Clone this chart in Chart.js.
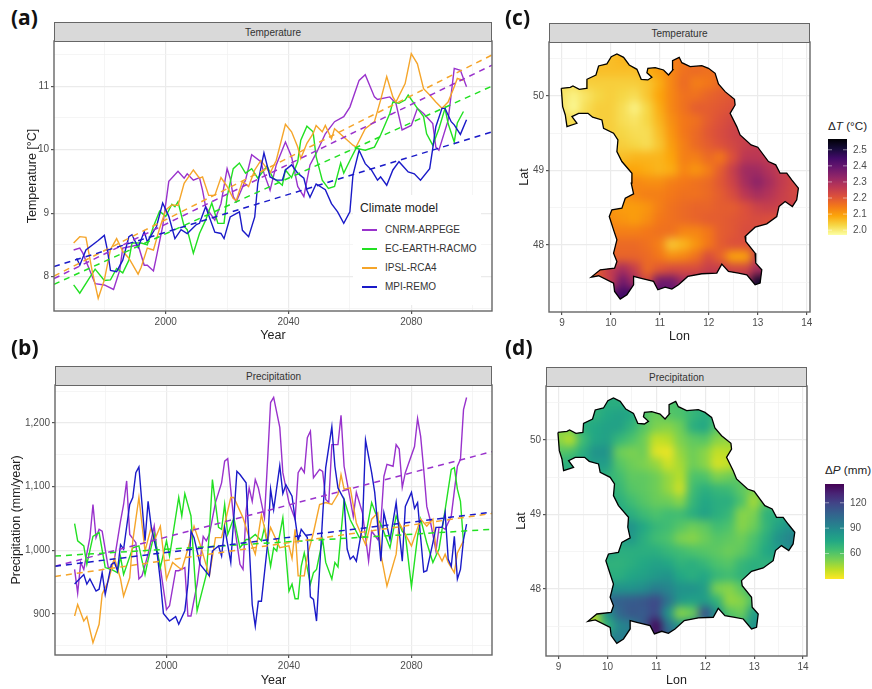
<!DOCTYPE html>
<html>
<head>
<meta charset="utf-8">
<title>Climate models</title>
<script src="https://cdn.jsdelivr.net/npm/chart.js@4"></script>
<style>
  body { margin: 0; background: #fff; font-family: "Liberation Sans", Arial, sans-serif; }
  #page { position: relative; width: 872px; height: 689px; overflow: hidden; }
  canvas { position: absolute; }
  .tag { position: absolute; font: bold 21px "Open Sans", sans-serif; color: #111; line-height: 24px; }
  .strip { position: absolute; box-sizing: border-box; background: #d9d9d9; border: 1px solid #666; border-bottom-width: 1.5px;
           font-size: 10px; color: #333; text-align: center; }
  .cbtitle { position: absolute; font-size: 11.7px; color: #222; white-space: nowrap; }
  #legend { position: absolute; left: 353px; top: 195px; width: 128px; height: 110px; background: #fff; color: #333; }
  #legend .head { position: absolute; left: 7px; top: 6px; font-size: 12.2px; color: #222; }
  #legend .item { position: absolute; left: 32px; font-size: 10px; line-height: 14px; white-space: nowrap; }
  #legend .key { position: absolute; left: 9px; width: 15px; height: 2px; }
</style>
</head>
<body>
<div id="page"></div>
<script>
// Modelos e cores
const modelNames = ["CNRM-ARPEGE", "EC-EARTH-RACMO", "IPSL-RCA4", "MPI-REMO"];
const modelColors = ["#9932cc", "#22e022", "#f5a52a", "#1a1ac8"];

// Temperature, [year, value]
const tempCnrm = [[1970,8.42],[1972,8.45],[1973,8.37],[1975,8.13],[1977,7.89],[1980,7.87],[1983,7.8],[1985,8.1],[1986,8.45],[1989,8.48],[1991,8.5],[1993,8.18],[1994,8.18],[1996,8.09],[1997,8.32],[1999,8.79],[2001,9.5],[2004,9.66],[2006,9.55],[2007,9.62],[2009,9.52],[2011,9.56],[2012,9.36],[2013,9.1],[2016,8.89],[2018,9.15],[2020,9.7],[2021,9.55],[2022,9.26],[2023,9.18],[2026,9.52],[2028,9.92],[2031,9.81],[2032,9.63],[2034,9.36],[2036,9.76],[2039,10.12],[2041,9.89],[2043,9.42],[2045,9.26],[2047,9.76],[2049,9.94],[2052,10.25],[2055,10.44],[2058,10.52],[2060,10.67],[2063,11.09],[2065,11.18],[2068,10.83],[2069,10.79],[2073,10.83],[2075,10.73],[2077,10.31],[2080,10.38],[2082,10.65],[2084,10.57],[2087,10.41],[2088,10.04],[2089,9.99],[2092,10.46],[2094,11.28],[2096,11.25],[2098,10.99]];
const tempEcearth = [[1970,7.87],[1972,7.74],[1975,7.97],[1977,8.12],[1980,7.94],[1982,7.95],[1984,8.13],[1986,8.06],[1988,8.26],[1989,8.53],[1992,8.53],[1994,8.5],[1996,8.79],[1998,9.03],[2000,8.95],[2002,9.14],[2003,9.1],[2004,9.18],[2006,8.79],[2007,8.74],[2009,8.37],[2011,8.68],[2013,8.89],[2015,9.16],[2017,8.84],[2019,8.84],[2020,9.26],[2022,9.7],[2024,9.79],[2026,9.63],[2028,9.7],[2030,9.55],[2033,9.74],[2035,9.55],[2036,9.52],[2038,9.44],[2039,9.68],[2041,9.56],[2043,9.81],[2044,10.15],[2046,10.37],[2048,10.28],[2049,9.89],[2051,9.52],[2053,9.39],[2055,9.42],[2057,9.79],[2058,9.63],[2060,9.83],[2062,10.02],[2065,9.99],[2068,10.04],[2070,10.23],[2073,10.57],[2074,10.75],[2076,10.73],[2078,10.78],[2079,10.86],[2082,10.65],[2084,10.52],[2085,10.25],[2087,10.07],[2089,10.33],[2091,10.65],[2092,10.41],[2094,10.12],[2095,10.42],[2097,10.6]];
const tempIpsl = [[1970,8.53],[1972,8.63],[1974,8.62],[1976,8.1],[1978,7.66],[1980,7.95],[1982,8.43],[1984,8.6],[1986,8.4],[1988,8.29],[1991,8.04],[1992,8.15],[1994,8.45],[1996,8.42],[1998,8.76],[2000,9.05],[2002,9.13],[2004,9.12],[2006,9.47],[2009,9.68],[2011,9.55],[2012,9.57],[2014,9.28],[2016,9.28],[2018,9.56],[2020,9.42],[2022,9.23],[2023,9.2],[2025,9.5],[2027,9.42],[2029,9.68],[2031,9.83],[2034,9.63],[2036,9.83],[2039,10.4],[2041,10.28],[2043,10.04],[2044,9.86],[2046,10.1],[2048,10.25],[2049,10.38],[2051,10.28],[2052,10.38],[2054,10.17],[2055,10.33],[2058,10.2],[2061,10.07],[2062,10.04],[2065,10.33],[2068,10.44],[2070,10.78],[2072,11.15],[2074,10.83],[2075,10.75],[2078,11.04],[2080,11.51],[2082,11.35],[2084,10.96],[2086,10.86],[2088,10.75],[2090,10.65],[2092,10.75],[2094,10.99],[2095,11.12],[2097,11.09]];
const tempMpi = [[1971,8.29],[1972,8.18],[1974,8.42],[1978,8.57],[1980,8.65],[1981,8.42],[1982,8.1],[1984,8.08],[1986,8.26],[1988,8.63],[1989,8.66],[1991,8.46],[1993,8.71],[1994,8.55],[1997,8.79],[1999,9.16],[2001,8.95],[2003,8.6],[2005,8.74],[2007,8.68],[2010,8.82],[2011,8.84],[2013,9.1],[2016,8.7],[2018,8.68],[2019,8.6],[2021,8.94],[2024,9.02],[2025,8.73],[2027,8.63],[2029,8.94],[2030,9.47],[2032,9.95],[2034,9.57],[2036,9.52],[2038,9.52],[2039,9.68],[2041,9.76],[2043,9.63],[2045,9.55],[2046,9.36],[2047,9.25],[2049,9.46],[2052,9.37],[2054,9.15],[2056,9.02],[2058,8.84],[2060,9.02],[2061,9.6],[2063,9.99],[2065,9.78],[2067,9.68],[2069,9.52],[2070,9.57],[2072,9.44],[2074,9.68],[2076,9.81],[2079,9.65],[2081,9.62],[2083,9.52],[2086,9.7],[2087,10.02],[2088,10.36],[2090,10.65],[2091,10.65],[2093,10.44],[2094,10.39],[2096,10.24],[2098,10.47]];

// Precipitation, [year, value]
const precCnrm = [[1970,970],[1971,933],[1972,981],[1973,970],[1975,1020],[1976,1072],[1977,1020],[1978,1033],[1979,1030],[1981,973],[1982,973],[1983,986],[1985,1046],[1986,1072],[1987,1109],[1988,1025],[1990,1012],[1991,955],[1992,960],[1994,994],[1996,1038],[1997,994],[1998,973],[2000,907],[2001,913],[2003,968],[2004,968],[2006,973],[2007,897],[2008,897],[2010,947],[2012,1022],[2013,1015],[2014,1025],[2016,1075],[2018,1106],[2019,1140],[2020,1144],[2022,1046],[2024,978],[2025,970],[2026,1062],[2027,1098],[2028,1077],[2029,1111],[2030,1098],[2032,1051],[2033,1140],[2034,1232],[2035,1240],[2037,1193],[2038,1122],[2040,1075],[2042,1049],[2043,1122],[2044,1130],[2045,1122],[2046,1177],[2047,1187],[2048,1114],[2050,1127],[2051,1124],[2052,1080],[2053,1075],[2054,1166],[2056,1166],[2057,1212],[2058,1132],[2060,1080],[2061,1053],[2062,1091],[2064,1059],[2066,983],[2067,1030],[2069,1017],[2070,1043],[2071,1116],[2072,1135],[2074,1132],[2075,1166],[2076,1159],[2077,1099],[2078,1122],[2081,1163],[2082,1207],[2083,1179],[2084,1127],[2085,1069],[2086,1050],[2088,999],[2089,1036],[2090,1036],[2091,1033],[2093,1054],[2095,1132],[2096,1143],[2097,1221],[2098,1240]];
const precEcearth = [[1970,1042],[1971,1015],[1973,1007],[1974,978],[1976,1022],[1978,1028],[1980,973],[1982,970],[1984,965],[1985,990],[1986,962],[1989,1004],[1991,1007],[1993,962],[1994,985],[1996,1025],[1998,973],[2000,1015],[2001,991],[2004,1083],[2005,1054],[2006,1089],[2008,1054],[2009,978],[2010,905],[2013,962],[2014,1028],[2015,1111],[2017,1036],[2018,1033],[2019,1072],[2020,1025],[2022,1051],[2024,1004],[2026,1017],[2027,1017],[2029,1025],[2031,1015],[2032,1036],[2034,975],[2035,1004],[2036,999],[2038,1051],[2040,936],[2041,947],[2042,924],[2043,924],[2044,975],[2045,996],[2047,947],[2048,965],[2049,970],[2051,1017],[2052,981],[2054,955],[2055,981],[2056,974],[2058,1080],[2060,1048],[2063,1020],[2065,1022],[2067,1075],[2069,1049],[2070,1041],[2073,1004],[2075,1054],[2077,1030],[2078,1025],[2080,943],[2082,1022],[2083,1049],[2085,1012],[2087,981],[2089,1002],[2091,1064],[2093,1127],[2094,1130],[2095,1096],[2096,1077],[2097,1012]];
const precIpsl = [[1970,897],[1971,915],[1973,889],[1974,896],[1976,855],[1978,884],[1979,931],[1981,952],[1983,988],[1985,955],[1986,928],[1988,957],[1989,1015],[1991,1083],[1993,999],[1995,1036],[1996,1015],[1998,1038],[2000,955],[2002,981],[2004,973],[2005,970],[2007,1002],[2009,1038],[2011,1009],[2014,960],[2016,1020],[2018,1020],[2019,1041],[2021,1083],[2022,1083],[2025,1051],[2027,1020],[2029,994],[2031,1056],[2033,1015],[2034,1036],[2037,1004],[2040,1007],[2041,987],[2042,1033],[2043,960],[2045,960],[2046,991],[2048,1028],[2050,1072],[2052,1075],[2054,1072],[2056,1088],[2057,1119],[2058,1096],[2060,1098],[2062,1043],[2065,1009],[2067,1049],[2069,1059],[2070,994],[2072,944],[2075,994],[2076,1043],[2078,1025],[2080,1007],[2083,1049],[2085,1038],[2087,1049],[2088,1002],[2090,983],[2091,994],[2092,981],[2094,965],[2095,996],[2097,1015]];
const precMpi = [[1970,947],[1973,962],[1974,947],[1975,955],[1977,936],[1978,939],[1979,965],[1980,931],[1982,978],[1983,981],[1984,968],[1985,1009],[1986,1002],[1988,1072],[1989,1083],[1990,1122],[1991,1131],[1993,1015],[1994,1077],[1995,1038],[1997,994],[1998,952],[1999,901],[2001,889],[2003,896],[2004,884],[2006,905],[2007,947],[2008,1030],[2009,1020],[2011,978],[2014,960],[2015,999],[2017,1007],[2018,991],[2019,1036],[2021,981],[2023,1124],[2024,1119],[2026,1106],[2028,915],[2029,881],[2030,920],[2031,920],[2033,1009],[2034,1096],[2035,1064],[2037,1133],[2038,1089],[2039,1103],[2041,1085],[2042,1049],[2043,1015],[2044,1033],[2046,1020],[2047,927],[2048,923],[2049,889],[2050,970],[2051,1054],[2052,1130],[2054,1194],[2055,1132],[2056,1098],[2058,1080],[2059,1002],[2060,986],[2061,991],[2062,983],[2064,1038],[2065,1173],[2067,1122],[2068,1091],[2069,1038],[2070,983],[2071,1059],[2073,1017],[2075,1075],[2077,983],[2078,1069],[2080,1091],[2081,1066],[2082,1075],[2084,966],[2085,968],[2087,1012],[2088,1036],[2090,1036],[2091,1059],[2092,986],[2093,975],[2094,1022],[2095,955],[2096,970],[2097,1017],[2098,1041]];

// Trend lines, [value at left edge, value at right edge]
const trendYears = [1963.6, 2106.3];
const tempTrends = [[7.97, 11.33], [7.88, 11.0], [8.01, 11.49], [8.16, 10.28]];
const precTrends = [[975, 1155], [991, 1033], [959, 1058], [975, 1060]];

// Axis ticks
const yearGrid = [1980, 2000, 2020, 2040, 2060, 2080, 2100];
const yearLabels = [2000, 2040, 2080];
const tempGrid = [7.5, 8, 8.5, 9, 9.5, 10, 10.5, 11, 11.5];
const tempLabels = [8, 9, 10, 11];
const precGrid = [850, 900, 950, 1000, 1050, 1100, 1150, 1200, 1250];
const precLabels = [900, 1000, 1100, 1200];
const lonGrid = [9, 9.5, 10, 10.5, 11, 11.5, 12, 12.5, 13, 13.5, 14];
const lonLabels = [9, 10, 11, 12, 13, 14];
const latGrid = [47.5, 48, 48.5, 49, 49.5, 50, 50.5];
const latLabels = [48, 49, 50];

// Bavaria outline
const outlineLon = [8.986,9.17,9.224,9.354,9.497,9.51,9.694,9.748,9.918,10.007,10.122,10.259,10.374,10.531,10.619,10.755,10.837,10.735,10.755,10.905,11.075,11.177,11.265,11.259,11.395,11.449,11.619,11.857,11.993,12.129,12.197,12.333,12.524,12.537,12.435,12.571,12.639,12.864,13.0,13.218,13.367,13.456,13.592,13.694,13.83,13.796,13.707,13.558,13.435,13.388,13.184,12.946,12.741,12.755,12.946,12.959,13.082,13.048,12.946,12.776,12.605,12.401,12.265,12.163,11.857,11.571,11.381,11.245,11.109,10.959,10.871,10.599,10.463,10.463,10.327,10.19,10.075,10.054,9.748,9.599,9.782,10.075,10.122,10.054,10.122,10.054,9.966,10.02,10.224,10.293,10.463,10.415,10.429,10.224,10.122,10.143,10.054,9.85,9.816,9.626,9.531,9.34,9.204,9.306,9.102,9.068,9.014,8.986];
const outlineLat = [50.103,50.116,50.134,50.089,50.103,50.224,50.282,50.403,50.43,50.528,50.564,50.519,50.416,50.358,50.224,50.215,50.251,50.313,50.371,50.38,50.349,50.282,50.349,50.474,50.519,50.447,50.394,50.407,50.371,50.304,50.161,50.058,49.955,49.879,49.767,49.588,49.477,49.342,49.311,49.119,49.074,48.962,48.962,48.872,48.761,48.604,48.515,48.582,48.515,48.38,48.282,48.237,48.112,48.045,47.888,47.754,47.664,47.485,47.463,47.597,47.62,47.642,47.74,47.62,47.611,47.575,47.463,47.405,47.432,47.396,47.508,47.553,47.575,47.463,47.329,47.271,47.374,47.485,47.584,47.566,47.664,47.687,47.776,47.888,48.067,48.201,48.38,48.47,48.492,48.626,48.685,48.828,48.962,49.119,49.253,49.409,49.499,49.566,49.678,49.714,49.767,49.767,49.723,49.633,49.588,49.745,49.857,50.103];

// Map grid: one row per latitude, one column per longitude
const cellLon = [9,9.25,9.5,9.75,10,10.25,10.5,10.75,11,11.25,11.5,11.75,12,12.25,12.5,12.75,13,13.25,13.5,13.75];
const cellLat = [50.5,50.33,50.17,50,49.83,49.67,49.5,49.33,49.17,49,48.83,48.67,48.5,48.33,48.17,48,47.83,47.67,47.5,47.33];
const n = null;
const deltaT = [
  [n,n,n,2.06,2.06,2.07,2.07,2.08,2.1,2.14,2.15,2.16,2.16,n,n,n,n,n,n,n],
  [n,n,2.05,2.06,2.06,2.06,2.06,2.08,2.1,2.13,2.16,2.17,2.16,2.17,n,n,n,n,n,n],
  [2.02,2.02,2.04,2.04,2.04,2.04,2.04,2.05,2.08,2.13,2.17,2.14,2.15,2.17,2.19,n,n,n,n,n],
  [2.01,1.99,2.01,2.03,2.04,2.03,2.02,2.05,2.09,2.13,2.16,2.16,2.18,2.19,2.2,2.21,n,n,n,n],
  [2.01,1.98,2.02,2.04,2.04,2.02,1.99,2.03,2.08,2.13,2.16,2.19,2.19,2.2,2.21,2.22,n,n,n,n],
  [2.02,2.02,2.03,2.04,2.04,2.02,2.01,2.03,2.07,2.12,2.15,2.16,2.19,2.21,2.23,2.24,2.24,n,n,n],
  [n,2.03,2.04,2.04,2.04,2.03,2.02,2.02,2.06,2.11,2.15,2.17,2.2,2.22,2.24,2.25,2.26,2.26,n,n],
  [n,n,n,2.04,2.04,2.04,2.03,2.02,2.05,2.1,2.14,2.17,2.19,2.21,2.23,2.25,2.26,2.26,2.25,n],
  [n,n,n,n,2.06,2.06,2.07,2.07,2.07,2.09,2.14,2.14,2.17,2.15,2.21,2.27,2.27,2.26,2.25,2.25],
  [n,n,n,n,2.09,2.09,2.09,2.08,2.07,2.08,2.13,2.11,2.14,2.19,2.25,2.31,2.31,2.28,2.25,2.24],
  [n,n,n,n,2.11,2.12,2.13,2.12,2.12,2.14,2.15,2.16,2.17,2.2,2.24,2.3,2.34,2.3,2.26,2.23],
  [n,n,n,2.11,2.11,2.11,2.13,2.14,2.14,2.15,2.16,2.16,2.17,2.19,2.22,2.27,2.3,2.28,2.25,2.23],
  [n,n,n,2.11,2.11,2.1,2.1,2.11,2.14,2.16,2.17,2.18,2.18,2.19,2.19,2.21,2.24,2.25,2.24,2.24],
  [n,n,n,2.12,2.12,2.11,2.1,2.12,2.15,2.16,2.17,2.18,2.19,2.19,2.2,2.21,2.22,2.21,2.21,n],
  [n,n,n,2.14,2.14,2.14,2.14,2.15,2.16,2.16,2.13,2.13,2.15,2.19,2.2,2.22,2.22,2.22,n,n],
  [n,n,n,2.17,2.17,2.17,2.17,2.16,2.14,2.05,2.07,2.11,2.15,2.19,2.21,2.21,2.23,2.23,n,n],
  [n,n,n,2.18,2.18,2.18,2.18,2.17,2.15,2.12,2.13,2.16,2.22,2.18,2.09,2.09,2.25,2.25,n,n],
  [n,2.1,2.12,2.2,2.26,2.3,2.25,2.17,2.2,2.22,2.22,2.22,2.25,2.25,2.23,2.23,2.3,2.3,n,n],
  [n,2.1,2.1,2.2,2.25,2.38,2.3,2.22,2.38,2.38,2.3,2.3,2.3,2.3,2.3,2.3,2.52,2.52,n,n],
  [n,n,n,2.3,2.4,2.45,2.45,2.4,2.42,2.4,n,n,n,n,n,2.4,2.52,2.5,n,n]
];
const deltaP = [
  [n,n,n,70,72,72,72,65,60,62,62,68,70,n,n,n,n,n,n,n],
  [n,n,70,70,75,78,75,62,55,60,62,68,72,70,n,n,n,n,n,n],
  [50,55,72,75,78,78,70,60,52,50,55,72,76,60,55,n,n,n,n,n],
  [50,42,65,76,78,68,62,55,40,42,52,58,60,50,48,50,n,n,n,n],
  [60,62,72,85,85,55,52,55,35,33,48,55,50,40,42,45,n,n,n,n],
  [70,72,75,80,80,60,55,52,48,38,45,55,50,37,40,48,55,n,n,n],
  [n,72,74,75,70,65,58,58,55,48,42,62,62,52,55,60,60,55,n,n],
  [n,n,n,75,70,68,60,58,55,48,38,65,72,68,66,58,52,52,60,n],
  [n,n,n,n,72,72,65,60,56,55,50,68,76,72,72,62,45,60,68,72],
  [n,n,n,n,80,75,72,66,62,65,65,72,78,72,68,50,52,70,72,78],
  [n,n,n,n,85,85,85,75,68,65,60,55,58,65,62,50,55,68,78,85],
  [n,n,n,78,78,78,82,72,65,62,52,50,55,60,58,55,62,72,85,92],
  [n,n,n,78,78,72,72,72,72,68,65,62,60,58,55,58,65,75,80,88],
  [n,n,n,70,70,70,72,75,78,76,70,72,68,62,60,68,72,70,72,n],
  [n,n,n,72,72,72,76,78,82,85,75,72,76,68,65,70,72,72,n,n],
  [n,n,n,85,85,85,85,88,95,92,85,85,80,52,50,58,72,72,n,n],
  [n,n,n,100,105,108,110,112,118,100,82,78,80,70,48,50,62,65,n,n],
  [n,45,45,45,85,105,112,110,118,85,50,55,115,85,60,55,80,80,n,n],
  [n,45,45,40,70,90,95,110,140,100,82,90,90,75,70,70,85,85,n,n],
  [n,n,n,80,90,95,95,110,135,110,n,n,n,n,n,85,85,85,n,n]
];

// Colour bars
const infernoStops = ["#000004","#160b39","#420a68","#6a176e","#932667","#bc3754","#dd513a","#f37819","#fca50a","#f6d746","#fcffa4"];
const viridisStops = ["#440154","#482475","#414487","#355f8d","#2a788e","#21918c","#22a884","#44bf70","#7ad151","#bddf26","#fde725"];
const tempRange = [1.97, 2.567];
const precRange = [29.9, 142.2];
const tempBarTicks = [2.0, 2.1, 2.2, 2.3, 2.4, 2.5];
const precBarTicks = [60, 90, 120];

const page = document.getElementById("page");
const textColor = "#4d4d4d";
const titleColor = "#222";
Chart.defaults.font.family = '"Liberation Sans", Arial, sans-serif';
Chart.defaults.animation = false;

function addCanvas(left, top, w, h) {
    const c = document.createElement("canvas");
    c.style.left = left + "px";
    c.style.top = top + "px";
    c.style.width = w + "px";
    c.style.height = h + "px";
    c.width = w;
    c.height = h;
    page.appendChild(c);
    return c;
}

function addText(cls, left, top, html, extra) {
    const d = document.createElement("div");
    d.className = cls;
    d.style.left = left + "px";
    d.style.top = top + "px";
    d.innerHTML = html;
    if (extra) Object.assign(d.style, extra);
    page.appendChild(d);
}

function hexToRgb(h) {
    return [parseInt(h.slice(1, 3), 16), parseInt(h.slice(3, 5), 16), parseInt(h.slice(5, 7), 16)];
}

// value -> colour, the palettes run from the high end to the low end
function colorFor(v, range, stops) {
    const t = Math.min(1, Math.max(0, 1 - (v - range[0]) / (range[1] - range[0]))) * (stops.length - 1);
    const i = Math.min(stops.length - 2, Math.floor(t));
    const a = hexToRgb(stops[i]), b = hexToRgb(stops[i + 1]);
    const f = t - i;
    return `rgb(${a.map((x, k) => Math.round(x + (b[k] - x) * f)).join(",")})`;
}

// Keeps the plot area exactly where the axis was told to be
function pinScale(s, size) {
    if (s.isHorizontal()) s.height = size; else s.width = size;
    s.paddingTop = 0;
    s.paddingBottom = 0;
    s.paddingLeft = 0;
    s.paddingRight = 0;
}

// Frame round the plot area
const panelBorder = {
    id: "panelBorder",
    afterDatasetsDraw(chart) {
        const a = chart.chartArea, ctx = chart.ctx;
        ctx.save();
        ctx.strokeStyle = "#666";
        ctx.lineWidth = 1.4;
        ctx.strokeRect(a.left, a.top, a.right - a.left, a.bottom - a.top);
        ctx.restore();
    }
};

// Smooths the cell dataset and cuts it to the outline
const smoothMap = {
    id: "smoothMap",
    beforeDatasetDraw(chart, args) {
        if (args.index !== 1) return;
        const bg = document.createElement("canvas");
        bg.width = chart.canvas.width;
        bg.height = chart.canvas.height;
        bg.getContext("2d").drawImage(chart.canvas, 0, 0);
        chart.$bg = bg;
        chart.ctx.clearRect(0, 0, bg.width, bg.height);
    },
    afterDatasetDraw(chart, args) {
        if (args.index !== 1) return;
        const ctx = chart.ctx, sx = chart.scales.x, sy = chart.scales.y;
        const snap = document.createElement("canvas");
        snap.width = chart.canvas.width;
        snap.height = chart.canvas.height;
        snap.getContext("2d").drawImage(chart.canvas, 0, 0);
        ctx.clearRect(0, 0, snap.width, snap.height);
        ctx.drawImage(chart.$bg, 0, 0);
        ctx.save();
        ctx.beginPath();
        outlineLon.forEach((lon, i) => {
            const x = sx.getPixelForValue(lon), y = sy.getPixelForValue(outlineLat[i]);
            if (i) ctx.lineTo(x, y); else ctx.moveTo(x, y);
        });
        ctx.closePath();
        ctx.clip();
        ctx.drawImage(snap, 0, 0);
        ctx.filter = "blur(4px)";
        ctx.drawImage(snap, 0, 0);
        ctx.restore();
    }
};

// Axis with grid lines on every value of grid, labels only on labels
function axis(grid, labels, min, max, pinned, title) {
    const major = v => labels.includes(v) || (Number.isInteger(v) && max < 100);
    return {
        type: "linear",
        min: min,
        max: max,
        afterBuildTicks(s) { s.ticks = grid.map(v => ({ value: v })); },
        afterFit(s) { pinScale(s, pinned); },
        title: { display: true, text: title, color: titleColor, font: { size: 12.5 }, padding: 0 },
        border: { display: false },
        grid: {
            color: c => major(c.tick.value) ? "#ebebeb" : "#f3f3f3",
            lineWidth: c => major(c.tick.value) ? 1.2 : 0.8,
            tickColor: c => labels.includes(c.tick.value) ? "#555" : "rgba(0,0,0,0)",
            tickLength: 3
        },
        ticks: {
            autoSkip: false,
            maxRotation: 0,
            color: textColor,
            font: { size: 10 },
            padding: 2,
            callback: v => labels.includes(v) ? (v >= 1000 && max > 1200 && max < 1500 ? v.toLocaleString("en-US") : String(v)) : ""
        }
    };
}

function lineDatasets(series, trends) {
    const sets = [];
    series.forEach((s, i) => {
        sets.push({
            label: modelNames[i],
            data: s.map(p => ({ x: p[0], y: p[1] })),
            borderColor: modelColors[i],
            borderWidth: 1.4,
            pointRadius: 0,
            showLine: true,
            order: 10 - i
        });
    });
    trends.forEach((t, i) => {
        sets.push({
            label: modelNames[i] + " trend",
            data: trendYears.map((y, k) => ({ x: y, y: t[k] })),
            borderColor: modelColors[i],
            borderWidth: 1.5,
            borderDash: [6, 5],
            pointRadius: 0,
            showLine: true,
            order: 5 - i
        });
    });
    return sets;
}

function linePanel(box, series, trends, xRange, yGrid, yLabels, yRange, yTitle) {
    const canvas = addCanvas(box.left, box.top - 2, box.right + 2 - box.left, box.canvasBottom - box.top + 2);
    new Chart(canvas, {
        type: "scatter",
        data: { datasets: lineDatasets(series, trends) },
        options: {
            responsive: false,
            layout: { autoPadding: false, padding: { top: 2, right: 2, left: 0, bottom: 0 } },
            plugins: { legend: { display: false }, tooltip: { enabled: false } },
            scales: {
                x: axis(yearGrid, yearLabels, xRange[0], xRange[1], box.canvasBottom - box.bottom, "Year"),
                y: axis(yGrid, yLabels, yRange[0], yRange[1], box.plotLeft - box.left, yTitle)
            }
        },
        plugins: [panelBorder]
    });
}

function mapPanel(box, grid, range, stops, xRange, yRange) {
    const canvas = addCanvas(box.left, box.top - 2, box.right + 2 - box.left, box.canvasBottom - box.top + 2);
    const cells = [], colors = [];
    grid.forEach((row, r) => row.forEach((v, c) => {
        if (v === null) return;
        cells.push({ x: cellLon[c], y: cellLat[r] });
        colors.push(colorFor(v, range, stops));
    }));
    new Chart(canvas, {
        type: "scatter",
        data: {
            datasets: [
                {
                    label: "Outline",
                    data: outlineLon.map((lon, i) => ({ x: lon, y: outlineLat[i] })),
                    borderColor: "#000",
                    borderWidth: 1.3,
                    pointRadius: 0,
                    showLine: true,
                    order: 0
                },
                {
                    label: "Change",
                    data: cells,
                    pointStyle: "rect",
                    pointRadius: 9.6,
                    pointBorderWidth: 0,
                    pointBackgroundColor: colors,
                    order: 1
                }
            ]
        },
        options: {
            responsive: false,
            layout: { autoPadding: false, padding: { top: 2, right: 2, left: 0, bottom: 0 } },
            plugins: { legend: { display: false }, tooltip: { enabled: false } },
            scales: {
                x: axis(lonGrid, lonLabels, xRange[0], xRange[1], box.canvasBottom - box.bottom, "Lon"),
                y: axis(latGrid, latLabels, yRange[0], yRange[1], box.plotLeft - box.left, "Lat")
            }
        },
        plugins: [smoothMap, panelBorder]
    });
}

function colorBar(left, top, h, range, stops, ticks, decimals) {
    const canvas = addCanvas(left, top, 44, h);
    new Chart(canvas, {
        type: "bar",
        data: {
            labels: [""],
            datasets: [{
                data: [[range[0], range[1]]],
                barPercentage: 1,
                categoryPercentage: 1,
                backgroundColor(c) {
                    const a = c.chart.chartArea;
                    if (!a) return "#888";
                    const g = c.chart.ctx.createLinearGradient(0, a.top, 0, a.bottom);
                    stops.forEach((s, i) => g.addColorStop(i / (stops.length - 1), s));
                    return g;
                }
            }]
        },
        options: {
            responsive: false,
            layout: { autoPadding: false },
            plugins: { legend: { display: false }, tooltip: { enabled: false } },
            scales: {
                x: { display: false },
                y: {
                    position: "right",
                    min: range[0],
                    max: range[1],
                    afterBuildTicks(s) { s.ticks = ticks.map(v => ({ value: v })); },
                    afterFit(s) { pinScale(s, 25); },
                    border: { display: false },
                    grid: { display: false, drawTicks: false },
                    ticks: {
                        autoSkip: false,
                        color: textColor,
                        font: { size: 10 },
                        padding: 6,
                        callback: v => v.toFixed(decimals)
                    }
                }
            }
        },
        plugins: [{
            id: "barTicks",
            afterDatasetsDraw(chart) {
                const a = chart.chartArea, ctx = chart.ctx;
                ctx.save();
                ctx.strokeStyle = "rgba(255,255,255,0.8)";
                ctx.lineWidth = 0.6;
                chart.scales.y.ticks.forEach(t => {
                    const y = chart.scales.y.getPixelForValue(t.value);
                    ctx.beginPath();
                    ctx.moveTo(a.left, y); ctx.lineTo(a.left + 4, y);
                    ctx.moveTo(a.right - 4, y); ctx.lineTo(a.right, y);
                    ctx.stroke();
                });
                ctx.restore();
            }
        }]
    });
}

// Panel (a)
linePanel({ left: 25, plotLeft: 54, right: 492, top: 41, bottom: 311, canvasBottom: 343 },
    [tempCnrm, tempEcearth, tempIpsl, tempMpi], tempTrends, [1963.6, 2106.3], tempGrid, tempLabels, [7.46, 11.71], "Temperature [°C]");
// Panel (b)
linePanel({ left: 9, plotLeft: 55, right: 492, top: 385, bottom: 655, canvasBottom: 688 },
    [precCnrm, precEcearth, precIpsl, precMpi], precTrends, [1963.6, 2106.3], precGrid, precLabels, [835.7, 1259.6], "Precipitation (mm/year)");
// Panel (c)
mapPanel({ left: 517, plotLeft: 549, right: 810, top: 42, bottom: 312, canvasBottom: 344 },
    deltaT, tempRange, infernoStops, [8.735, 14.067], [47.097, 50.725]);
// Panel (d)
mapPanel({ left: 514, plotLeft: 546, right: 807, top: 386, bottom: 656, canvasBottom: 688 },
    deltaP, precRange, viridisStops, [8.742, 14.08], [47.1, 50.725]);

colorBar(828, 139, 96, tempRange, infernoStops, tempBarTicks, 1);
colorBar(825, 484, 95, precRange, viridisStops, precBarTicks, 0);

// Strips and labels
addText("strip", 54, 22, "Temperature", { width: "438px", height: "20px", lineHeight: "19px" });
addText("strip", 55, 366, "Precipitation", { width: "437px", height: "20px", lineHeight: "19px" });
addText("strip", 549, 23, "Temperature", { width: "261px", height: "20px", lineHeight: "19px" });
addText("strip", 546, 367, "Precipitation", { width: "261px", height: "20px", lineHeight: "19px" });
addText("tag", 11, 5, "(a)");
addText("tag", 11, 335, "(b)");
addText("tag", 505, 5, "(c)");
addText("tag", 505, 335, "(d)");
addText("cbtitle", 828, 119, "Δ<i>T</i> (°C)");
addText("cbtitle", 825, 463, "Δ<i>P</i> (mm)");

// Legend of panel (a)
const legend = document.createElement("div");
legend.id = "legend";
legend.innerHTML = '<div class="head">Climate model</div>' + modelNames.map((m, i) => {
    const y = 34 + i * 19;
    return `<div class="key" style="top:${y}px;background:${modelColors[i]}"></div><div class="item" style="top:${y - 6}px">${m}</div>`;
}).join("");
page.appendChild(legend);
</script>
</body>
</html>
